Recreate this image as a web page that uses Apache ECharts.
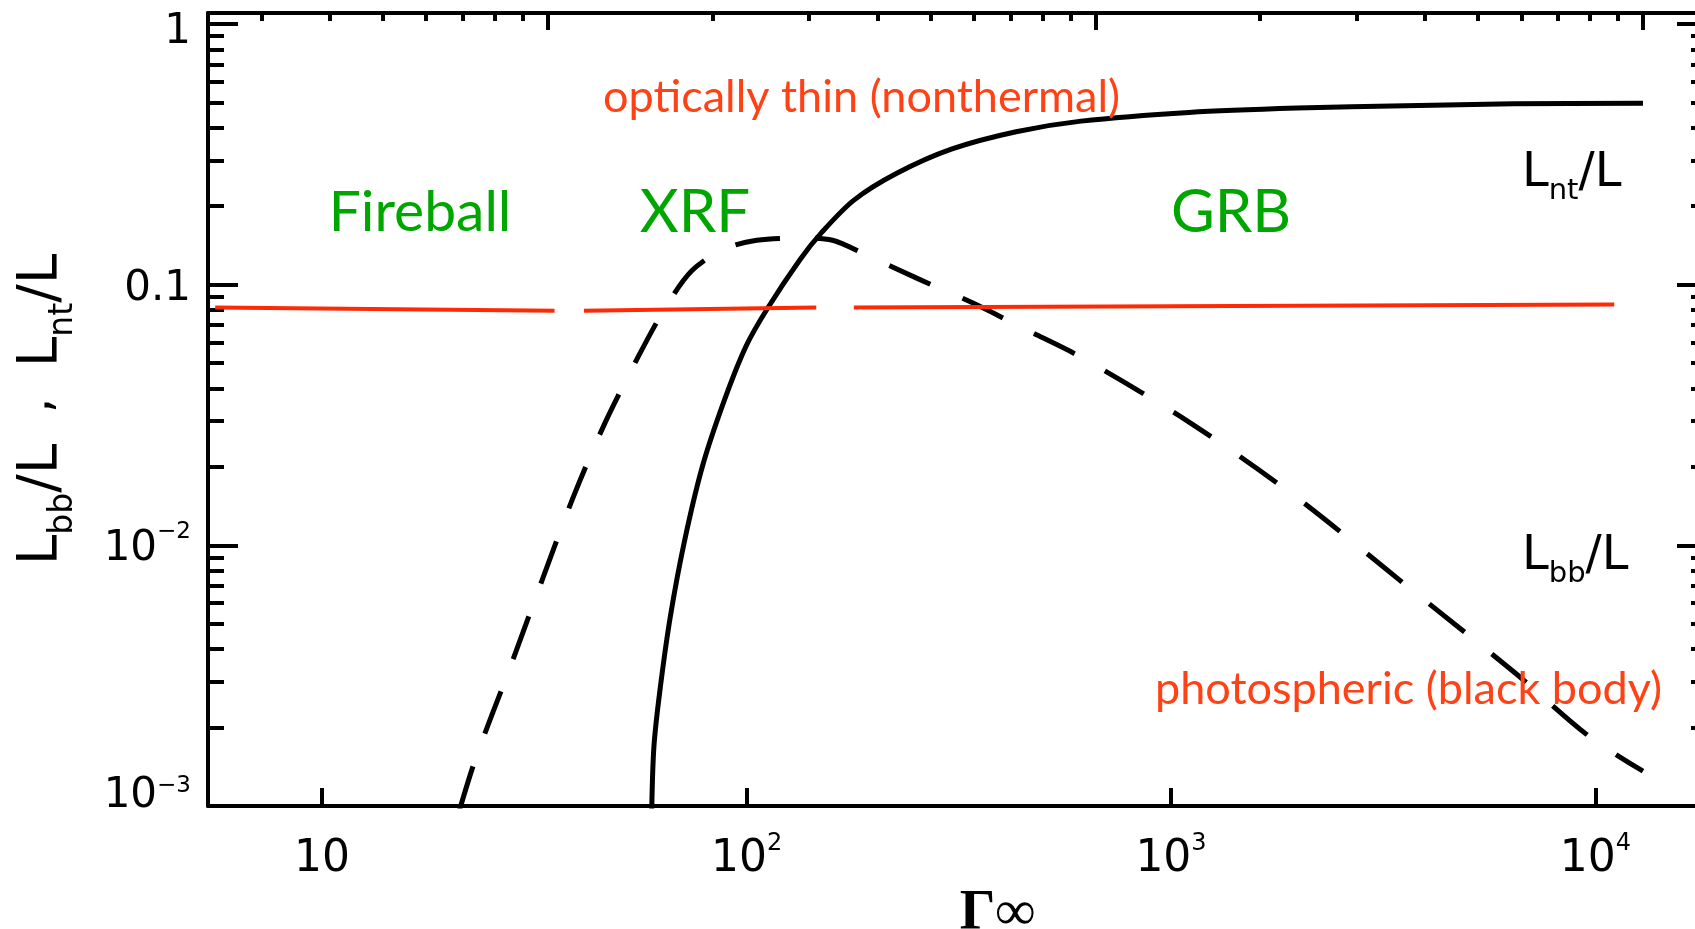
<!DOCTYPE html>
<html>
<head>
<meta charset="utf-8">
<script src="https://cdn.jsdelivr.net/npm/echarts@6/dist/echarts.min.js"></script>
<style>html,body{margin:0;padding:0;background:#fff}#c{width:1695px;height:929px}</style>
</head>
<body>
<div id="c"></div>
<script>
// ---------- data ----------
// nonthermal (optically thin) fraction L_nt/L vs Gamma_inf  (solid curve)
const gammaNT = [59.8, 60.5, 62.4, 66.1, 71.4, 78.8, 88.6, 99.7, 112, 133.6, 150.2, 179.1, 226.5, 303.8, 431.6, 613.8, 1103, 1983, 3565, 6405, 12940];
const ratioNT = [0.00097, 0.00168, 0.00271, 0.00529, 0.01035, 0.0202, 0.0359, 0.058, 0.081, 0.1247, 0.1583, 0.211, 0.268, 0.331, 0.386, 0.424, 0.458, 0.476, 0.486, 0.494, 0.497];
// photospheric (black body) fraction L_bb/L vs Gamma_inf (dashed curve)
const gammaBB = [21.1, 23.0, 27.5, 32.7, 39.0, 46.5, 55.5, 64.2, 74.3, 88.6, 105.7, 133.6, 159.4, 190, 254.7, 341.6, 457.9, 613.8, 1103, 1983, 3565, 6405, 9660, 12940];
const ratioBB = [0.00097, 0.00152, 0.00328, 0.00706, 0.0152, 0.0297, 0.0527, 0.081, 0.113, 0.137, 0.148, 0.151, 0.148, 0.1308, 0.105, 0.085, 0.0669, 0.0527, 0.0297, 0.0152, 0.00706, 0.00328, 0.00185, 0.00136];
// red dividing line, three pieces separated by gaps ('-' = gap)
const gammaDivide = [5.6, 35.3, '-', 41.4, 146, '-', 179, 11070];
const ratioDivide = [0.0818, 0.0795, '-', 0.0795, 0.0818, '-', 0.0818, 0.084];

// ---------- axes ----------
const xRange = [5.387, 18310];
const xMajorTicks = [10, 100, 1000, 10000];
const xTickLabels = ['10', '10^2', '10^3', '10^4'];
const topRange = [0.2397, 130.9];
const topMajorTicks = [1, 10, 100];
const yRange = [0.001, 1.102];
const yMajorTicks = [0.001, 0.01, 0.1, 1];
const yTickLabels = ['10^−3', '10^−2', '0.1', '1'];

function minorsOf(decades) {
  const out = [];
  decades.forEach(d => { for (let k = 2; k <= 9; k++) out.push(+(d * k).toPrecision(3)); });
  return out;
}
const yMinorTicks = minorsOf([0.001, 0.01, 0.1]);
const topMinorTicks = minorsOf([0.1, 1, 10]);

function nearestIndex(arr, v) {
  let best = 0, bd = Infinity;
  arr.forEach((a, i) => { const d = Math.abs(Math.log10(a) - Math.log10(v)); if (d < bd) { bd = d; best = i; } });
  return best;
}
function toRich(label, base, prefix) {
  const i = label.indexOf('^');
  const pre = prefix || '';
  if (i < 0) return pre + '{' + base + '|' + label + '}';
  return pre + '{' + base + '|' + label.slice(0, i) + '}{s|' + label.slice(i + 1) + '}';
}

const AX = 'DejaVu Sans';
const ANN = 'Lato';
const RED_TXT = '#ff4216';
const RED_LINE = '#ff2a05';
const GREEN = '#00a600';

const tickStyle = (w) => ({ color: '#000', width: w });

const option = {
  animation: false,
  backgroundColor: '#fff',
  grid: { left: 208, top: 13, width: 1499, height: 793, containLabel: false, outerBoundsMode: 'none' },
  xAxis: [
    {
      type: 'log', position: 'bottom', min: xRange[0], max: xRange[1],
      axisLine: { show: true, lineStyle: { color: '#000', width: 4 } },
      axisTick: { show: true, inside: true, length: 18, customValues: xMajorTicks, lineStyle: tickStyle(4) },
      splitLine: { show: false }, minorTick: { show: false },
      axisLabel: {
        customValues: xMajorTicks, margin: 26,
        formatter: (v) => toRich(xTickLabels[nearestIndex(xMajorTicks, v)], 'b'),
        rich: {
          b: { fontFamily: AX, fontSize: 44, color: '#000', lineHeight: 50, verticalAlign: 'bottom' },
          s: { fontFamily: AX, fontSize: 24, color: '#000', lineHeight: 24, verticalAlign: 'top' }
        }
      },
      name: 'Γ∞', nameLocation: 'middle', nameGap: 66,
      nameTextStyle: { fontFamily: 'Liberation Serif', fontWeight: 'bold', fontSize: 56, color: '#000', padding: [0, 0, 0, 80] }
    },
    {
      type: 'log', position: 'top', min: topRange[0], max: topRange[1],
      axisLine: { show: true, lineStyle: { color: '#000', width: 4 } },
      axisTick: { show: true, inside: true, length: 17, customValues: topMajorTicks, lineStyle: tickStyle(4) },
      axisLabel: { show: false }, splitLine: { show: false }
    },
    {
      type: 'log', position: 'top', min: topRange[0], max: topRange[1],
      axisLine: { show: false },
      axisTick: { show: true, inside: true, length: 8, customValues: topMinorTicks, lineStyle: tickStyle(4) },
      axisLabel: { show: false }, splitLine: { show: false }
    }
  ],
  yAxis: [
    {
      type: 'log', position: 'left', min: yRange[0], max: yRange[1],
      axisLine: { show: true, lineStyle: { color: '#000', width: 4 } },
      axisTick: { show: true, inside: true, length: 30, customValues: yMajorTicks, lineStyle: tickStyle(4) },
      splitLine: { show: false },
      axisLabel: {
        customValues: yMajorTicks, margin: 17,
        formatter: (v) => {
          const i = nearestIndex(yMajorTicks, v);
          if (i === 0) return toRich(yTickLabels[i], 'bLow', '{zLow| }');
          if (i === yMajorTicks.length - 1) return toRich(yTickLabels[i], 'b', '{zTop| }');
          return toRich(yTickLabels[i], 'b');
        },
        rich: {
          b: { fontFamily: AX, fontSize: 42, color: '#000', lineHeight: 50, verticalAlign: 'bottom' },
          bLow: { fontFamily: AX, fontSize: 42, color: '#000', lineHeight: 50, verticalAlign: 'top' },
          zTop: { fontSize: 1, lineHeight: 58, verticalAlign: 'top' },
          zLow: { fontSize: 1, lineHeight: 62, verticalAlign: 'top' },
          s: { fontFamily: AX, fontSize: 23, color: '#000', lineHeight: 23, verticalAlign: 'top' }
        }
      },
      name: '{L|L}{sub|bb}{L|/L}{g|  ,  }{L|L}{sub|nt}{L|/L}',
      nameLocation: 'middle', nameGap: 128,
      nameTextStyle: {
        rich: {
          L: { fontFamily: AX, fontSize: 55, color: '#000', lineHeight: 66, verticalAlign: 'top' },
          g: { fontFamily: AX, fontSize: 48, color: '#000', lineHeight: 66, verticalAlign: 'top' },
          sub: { fontFamily: AX, fontSize: 33, color: '#000', lineHeight: 33, verticalAlign: 'bottom' }
        }
      }
    },
    {
      type: 'log', position: 'left', min: yRange[0], max: yRange[1],
      axisLine: { show: false },
      axisTick: { show: true, inside: true, length: 16, customValues: yMinorTicks, lineStyle: tickStyle(4) },
      axisLabel: { show: false }, splitLine: { show: false }
    },
    {
      type: 'log', position: 'right', min: yRange[0], max: yRange[1],
      axisLine: { show: true, lineStyle: { color: '#000', width: 4 } },
      axisTick: { show: true, inside: true, length: 30, customValues: yMajorTicks, lineStyle: tickStyle(4) },
      axisLabel: { show: false }, splitLine: { show: false }
    },
    {
      type: 'log', position: 'right', min: yRange[0], max: yRange[1],
      axisLine: { show: false },
      axisTick: { show: true, inside: true, length: 16, customValues: yMinorTicks, lineStyle: tickStyle(4) },
      axisLabel: { show: false }, splitLine: { show: false }
    }
  ],
  series: [
    {
      name: 'L_nt/L', type: 'line', xAxisIndex: 0, yAxisIndex: 0,
      data: gammaNT.map((g, i) => [g, ratioNT[i]]),
      symbol: 'none', smooth: 0.3,
      lineStyle: { color: '#000', width: 5 }, z: 3
    },
    {
      name: 'L_bb/L', type: 'line', xAxisIndex: 0, yAxisIndex: 0,
      data: gammaBB.map((g, i) => [g, ratioBB[i]]),
      symbol: 'none', smooth: 0.3,
      lineStyle: { color: '#000', width: 5, type: [45, 35] }, z: 3
    },
    {
      name: 'divide', type: 'line', xAxisIndex: 0, yAxisIndex: 0,
      data: gammaDivide.map((g, i) => [g, ratioDivide[i]]),
      symbol: 'none', connectNulls: false,
      lineStyle: { color: RED_LINE, width: 4 }, z: 4
    }
  ],
  graphic: [
    { type: 'text', x: 603, y: 97, z: 10, style: { text: 'optically thin (nonthermal)', fontFamily: ANN, fontSize: 45, fill: RED_TXT, align: 'left', verticalAlign: 'middle' } },
    { type: 'text', x: 1155, y: 689, z: 10, style: { text: 'photospheric (black body)', fontFamily: ANN, fontSize: 45, fill: RED_TXT, align: 'left', verticalAlign: 'middle' } },
    { type: 'text', x: 420, y: 213, z: 10, style: { text: 'Fireball', fontFamily: ANN, fontSize: 57, fill: GREEN, align: 'center', verticalAlign: 'middle' } },
    { type: 'text', x: 695, y: 213, z: 10, style: { text: 'XRF', fontFamily: ANN, fontSize: 60, fill: GREEN, align: 'center', verticalAlign: 'middle' } },
    { type: 'text', x: 1231, y: 213, z: 10, style: { text: 'GRB', fontFamily: ANN, fontSize: 60, fill: GREEN, align: 'center', verticalAlign: 'middle' } },
    { type: 'text', x: 1522, y: 150, z: 10, style: {
        text: '{L|L}{sub|nt}{L|/L}',
        rich: {
          L: { fontFamily: AX, fontSize: 48, fill: '#000', lineHeight: 56, verticalAlign: 'top' },
          sub: { fontFamily: AX, fontSize: 29, fill: '#000', lineHeight: 29, verticalAlign: 'bottom' }
        } } },
    { type: 'text', x: 1522, y: 533, z: 10, style: {
        text: '{L|L}{sub|bb}{L|/L}',
        rich: {
          L: { fontFamily: AX, fontSize: 48, fill: '#000', lineHeight: 56, verticalAlign: 'top' },
          sub: { fontFamily: AX, fontSize: 29, fill: '#000', lineHeight: 29, verticalAlign: 'bottom' }
        } } }
  ]
};

const chart = echarts.init(document.getElementById('c'));
chart.setOption(option);
</script>
</body>
</html>
